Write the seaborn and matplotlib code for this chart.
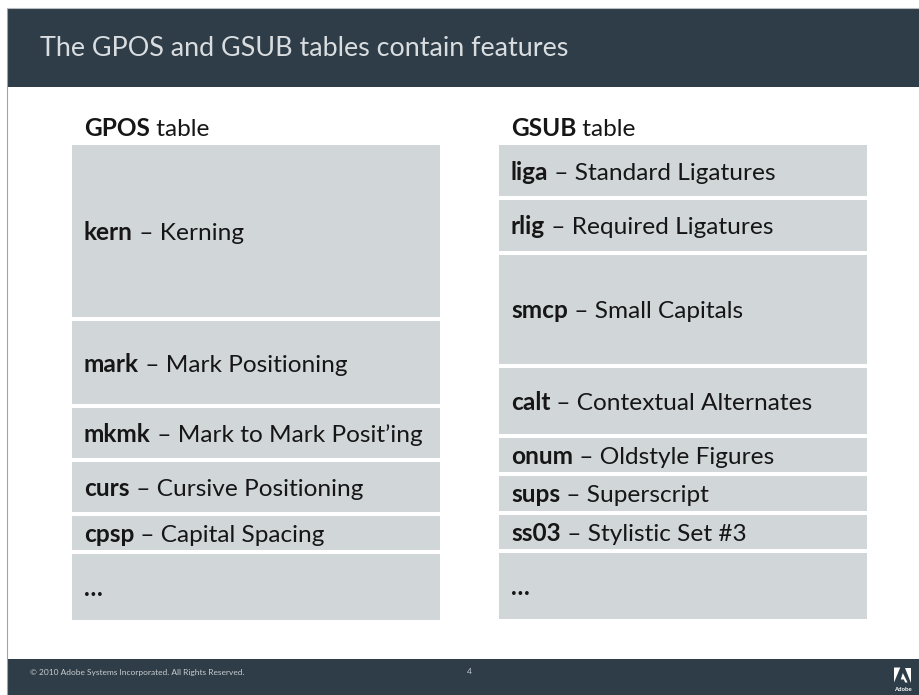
import matplotlib
matplotlib.use("Agg")
import matplotlib.pyplot as plt
import seaborn as sns
from matplotlib.patches import Rectangle, Polygon

# ---------------- data ----------------
title = "The GPOS and GSUB tables contain features"
tables = ["GPOS", "GSUB"]
gpos_tags = ["kern", "mark", "mkmk", "curs", "cpsp", "…"]
gpos_names = ["Kerning", "Mark Positioning", "Mark to Mark Posit’ing",
              "Cursive Positioning", "Capital Spacing", ""]
gpos_rows = [172, 83, 50, 50, 34, 66]
gsub_tags = ["liga", "rlig", "smcp", "calt", "onum", "sups", "ss03", "…"]
gsub_names = ["Standard Ligatures", "Required Ligatures", "Small Capitals",
              "Contextual Alternates", "Oldstyle Figures", "Superscript",
              "Stylistic Set #3", ""]
gsub_rows = [51, 51, 109, 66, 34, 35, 34, 66]
footer_text = "© 2010 Adobe Systems Incorporated. All Rights Reserved."
page_number = "4"

# ---------------- style ----------------
sns.set_theme(style="white")
FONT = ["Lato", "DejaVu Sans"]
plt.rcParams["font.family"] = FONT

DARK = "#2e3d48"
BOX = "#d1d6d9"
INK = "#161616"

W, H = 920, 695
fig = plt.figure(figsize=(W / 100, H / 100), dpi=100)
ax = fig.add_axes([0, 0, 1, 1])

# slide frame, header and footer bands
ax.add_patch(Rectangle((7, 9), W - 7, 78, facecolor=DARK, edgecolor="none", zorder=1))
ax.add_patch(Rectangle((7, 658.5), W - 7, H - 658.5, facecolor=DARK, edgecolor="none", zorder=1))
ax.plot([7, 7], [8, H], color="#a0a4a8", lw=0.8, zorder=2)
ax.plot([7, W], [8.3, 8.3], color="#b8bcbf", lw=0.8, zorder=2)

ax.text(40, 56, title, color="#d9dde0", fontsize=19.4, fontweight="normal",
        va="baseline", ha="left", zorder=3)

# ---------------- columns of feature boxes ----------------
col_left = [72, 499]
col_width = 368
top0 = 145
gap = 4
item_size = 17.6

columns = [(gpos_tags, gpos_names, gpos_rows), (gsub_tags, gsub_names, gsub_rows)]


def two_part(x, y, bold, rest, size):
    t = ax.text(x, y, bold, fontsize=size, fontweight="bold", color=INK,
                va="baseline", ha="left", zorder=4)
    if rest:
        ax.annotate(rest, xy=(1, y), xycoords=(t, "data"), fontsize=size,
                    color=INK, va="baseline", ha="left", zorder=4)
    return t


for ci, (tags, names, rows) in enumerate(columns):
    left = col_left[ci]
    cx = left + col_width / 2
    two_part(left + 12, 136, tables[ci], " table", item_size)
    top = top0
    for tag, name, h in zip(tags, names, rows):
        sns.barplot(x=[cx], y=[h], bottom=top, width=col_width, native_scale=True,
                    color=BOX, saturation=1, errorbar=None, linewidth=0,
                    ax=ax, zorder=2)
        base = top + h / 2 + 9
        rest = f" – {name}" if name else ""
        two_part(left + 12, base, tag, rest, item_size)
        top += h + gap

# ---------------- footer ----------------
ax.text(30, 672, footer_text, color="#c9cdd0", fontsize=6.0, va="center", ha="left", zorder=3)
ax.text(469, 672, page_number, color="#c9cdd0", fontsize=6.0, va="center", ha="center", zorder=3)
logo = [
    [(894, 667.5), (900.3, 667.5), (894, 682.5)],
    [(905.2, 667.5), (911.5, 667.5), (911.5, 682.5)],
    [(902.8, 673), (907.6, 682.5), (905.2, 682.5), (903.8, 679.5), (900.8, 679.5)],
]
for pts in logo:
    ax.add_patch(Polygon(pts, closed=True, facecolor="white", edgecolor="none", zorder=3))
ax.text(903, 689.5, "Adobe", color="white", fontsize=4.3, fontweight="bold",
        va="center", ha="center", zorder=3)

ax.set_xlim(0, W)
ax.set_ylim(H, 0)
ax.set_axis_off()
fig.savefig("out.png", dpi=100, facecolor="white")
